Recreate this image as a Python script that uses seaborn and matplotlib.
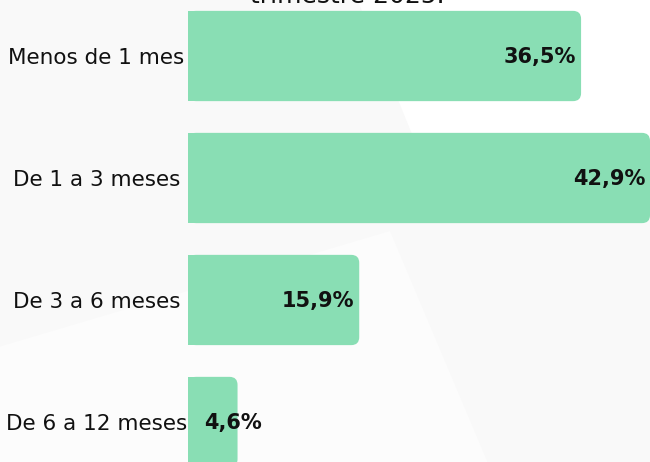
import matplotlib
matplotlib.use("Agg")
import matplotlib.pyplot as plt
from matplotlib.patches import FancyBboxPatch, Rectangle, Polygon
import seaborn as sns
import pandas as pd

# Data
categories = ["Menos de 1 mes", "De 1 a 3 meses", "De 3 a 6 meses", "De 6 a 12 meses"]
values = [36.5, 42.9, 15.9, 4.6]
labels = ["36,5%", "42,9%", "15,9%", "4,6%"]
title = "trimestre 2025."

bar_color = "#89DEB4"
bg_color = "#F9F9F9"

sns.set_theme(style="white")
plt.rcParams["font.family"] = ["DejaVu Sans"]

df = pd.DataFrame({"cat": categories, "val": values})

fig = plt.figure(figsize=(6.5, 4.62), dpi=100, facecolor=bg_color)

# faint background shapes (behind the axes)
fig.patches.append(Polygon([[0.55, 1.0], [1.0, 1.0], [1.0, 0.62], [0.68, 0.55]],
                           closed=True, transform=fig.transFigure,
                           facecolor="#FFFFFF", edgecolor="none", zorder=-2))
fig.patches.append(Polygon([[0.0, 0.0], [0.0, 0.25], [0.6, 0.5], [0.75, 0.0]],
                           closed=True, transform=fig.transFigure,
                           facecolor="#FCFCFC", edgecolor="none", zorder=-2))

ax = fig.add_axes([188 / 650, 0, 1 - 188 / 650, 1])
ax.set_facecolor("none")

sns.barplot(data=df, x="val", y="cat", orient="h", color=bar_color,
            width=0.74, saturation=1, ax=ax)

ax.set_xlim(0, max(values))
ax.set_ylim(3.328, -0.459)

# rounded right corners
px_x = (max(values)) / 462.0
px_y = (3.328 + 0.459) / 462.0
r = 8 * px_x
aspect = px_y / px_x
for p in list(ax.patches):
    x0, y0 = p.get_x(), p.get_y()
    w, h = p.get_width(), p.get_height()
    p.set_visible(False)
    ax.add_patch(FancyBboxPatch((x0, y0), w, h,
                                boxstyle=f"round,pad=0,rounding_size={r}",
                                mutation_aspect=aspect, facecolor=bar_color,
                                edgecolor="none", zorder=2, clip_on=False))
    ax.add_patch(Rectangle((x0, y0), w / 2, h, facecolor=bar_color,
                           edgecolor="none", zorder=2, clip_on=False))

# value labels
for i, (v, lab) in enumerate(zip(values, labels)):
    if v >= 10:
        ax.annotate(lab, xy=(v, i), xytext=(-5, -1), textcoords="offset pixels",
                    ha="right", va="center", fontsize=15, fontweight="bold",
                    color="#111111", zorder=3)
    else:
        ax.annotate(lab, xy=(0, i), xytext=(16, -1), textcoords="offset pixels",
                    ha="left", va="center", fontsize=15, fontweight="bold",
                    color="#111111", zorder=3, annotation_clip=False)

ax.set_xlabel("")
ax.set_ylabel("")
ax.set_xticks([])
ax.tick_params(axis="y", length=0, pad=66)
for t in ax.get_yticklabels():
    t.set_ha("center")
    t.set_fontsize(15.5)
    t.set_color("#111111")
sns.despine(ax=ax, left=True, bottom=True)

fig.text(347 / 650, 1 - 3 / 462, title, ha="center", va="baseline",
         fontsize=18, color="#111111")

fig.savefig("out.png", dpi=100, facecolor=bg_color)
